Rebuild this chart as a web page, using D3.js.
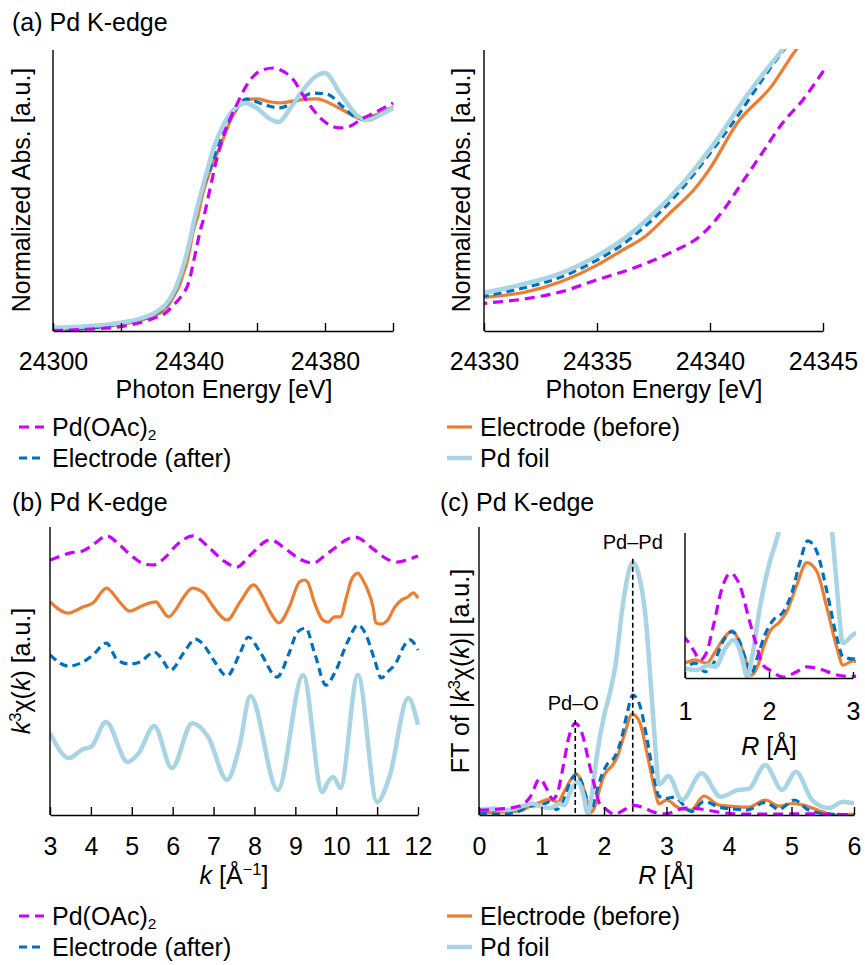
<!DOCTYPE html>
<html>
<head>
<meta charset="utf-8">
<script src="https://cdn.jsdelivr.net/npm/d3@7"></script>
<style>
  body { margin: 0; background: #fff; }
  svg text { font-family: "Liberation Sans", Arial, Helvetica, sans-serif; fill: #000; }
</style>
</head>
<body>
<svg id="fig" width="865" height="965"></svg>
<script>
// ---------------- data ----------------
const seriesKeys = ["pdOAc2", "before", "after", "foil"];
const seriesLabels = ["Pd(OAc)", "Electrode (before)", "Electrode (after)", "Pd foil"];

// (a) XANES: [photon energy (eV), normalized absorption]
const xanesPdOAc2 = [[24300,0.002],[24310,0.008],[24320,0.02],[24326,0.04],[24330,0.060],[24331.7,0.069],[24333.4,0.085],[24335,0.111],[24336.8,0.140],[24338.2,0.169],[24339.7,0.212],[24340.6,0.263],[24341.5,0.328],[24342.4,0.393],[24343.2,0.451],[24344.1,0.501],[24345,0.563],[24346.5,0.67],[24348.1,0.779],[24351.1,0.929],[24354,1.030],[24358,1.144],[24361,1.185],[24364.8,1.198],[24368,1.18],[24370.7,1.144],[24373.5,1.075],[24376.6,1.007],[24380,0.952],[24384.4,0.925],[24387.5,0.934],[24390.3,0.961],[24395,0.998],[24400,1.039]];
const xanesBefore = [[24300,0.005],[24310,0.012],[24320,0.030],[24326,0.050],[24330,0.073],[24331.7,0.083],[24333.4,0.107],[24335,0.143],[24336,0.172],[24337.2,0.208],[24338.2,0.255],[24339.4,0.313],[24340,0.353],[24341.2,0.451],[24342.7,0.530],[24343.8,0.610],[24346,0.72],[24349.1,0.838],[24353,0.984],[24357,1.052],[24360,1.057],[24363.5,1.045],[24366.8,1.039],[24372,1.052],[24377.5,1.057],[24382.4,1.030],[24386,1.0],[24390.3,0.970],[24394,0.98],[24400,1.021]];
const xanesAfter = [[24300,0.005],[24310,0.012],[24320,0.032],[24326,0.052],[24330,0.076],[24331.7,0.093],[24333.4,0.117],[24335,0.154],[24335.9,0.180],[24337.3,0.235],[24338.7,0.306],[24340,0.386],[24341.2,0.465],[24342.4,0.552],[24343.2,0.606],[24346,0.73],[24349,0.86],[24353,0.99],[24357,1.057],[24360,1.043],[24363.5,1.025],[24366.5,1.016],[24372,1.052],[24376.5,1.084],[24380.5,1.08],[24385,1.025],[24388,0.984],[24391.8,0.961],[24395,0.98],[24400,1.021]];
const xanesFoil = [[24300,0.015],[24310,0.022],[24320,0.038],[24326,0.058],[24330,0.083],[24331.6,0.100],[24333.4,0.125],[24335,0.163],[24335.9,0.190],[24337.2,0.241],[24338.8,0.321],[24340.3,0.415],[24341.6,0.509],[24343.2,0.610],[24345,0.71],[24347.1,0.825],[24350.6,0.952],[24354,1.020],[24356.5,1.039],[24359.9,1.016],[24363,0.975],[24366.3,0.952],[24370,1.02],[24373.6,1.098],[24377,1.157],[24380,1.175],[24384.4,1.084],[24389.3,0.984],[24392.7,0.961],[24396.2,0.984],[24400,1.016]];

// (b) EXAFS oscillations, vertically offset: [k (1/Å), k^3 chi(k) (a.u.)]
const exafsPdOAc2 = [[3.0,8.85],[3.25,8.99],[3.5,9.10],[3.8,9.17],[4.05,9.38],[4.39,9.69],[4.7,9.38],[5.0,8.99],[5.25,8.75],[5.52,8.68],[5.8,8.92],[6.1,9.38],[6.5,9.69],[6.9,9.27],[7.25,8.82],[7.57,8.61],[7.9,9.03],[8.38,9.55],[8.8,9.20],[9.1,8.89],[9.43,8.75],[9.8,9.10],[10.46,9.65],[10.9,9.24],[11.2,8.92],[11.48,8.78],[11.8,8.89],[12.0,8.99]];
const exafsBefore = [[3.0,7.40],[3.45,7.01],[3.6,7.08],[3.8,7.22],[4.05,7.36],[4.38,7.88],[4.7,7.40],[4.95,7.08],[5.15,7.19],[5.3,7.29],[5.6,7.40],[5.7,7.22],[5.9,6.88],[6.07,7.12],[6.27,7.57],[6.48,7.88],[6.76,7.71],[7.0,7.22],[7.33,6.77],[7.65,7.40],[7.98,7.99],[8.2,7.57],[8.4,7.01],[8.6,6.67],[8.85,7.22],[9.1,8.09],[9.22,8.16],[9.3,8.09],[9.47,7.36],[9.67,6.77],[9.8,6.70],[9.96,6.88],[10.1,6.88],[10.25,7.57],[10.37,8.16],[10.53,8.40],[10.65,8.16],[10.77,7.81],[10.9,7.22],[10.97,6.67],[11.1,6.63],[11.26,6.77],[11.42,7.19],[11.6,7.47],[11.75,7.57],[11.88,7.71],[12.0,7.53]];
const exafsAfter = [[3.0,5.56],[3.45,5.17],[3.8,5.31],[4.05,5.56],[4.38,5.97],[4.65,5.38],[4.95,5.24],[5.2,5.31],[5.55,5.66],[5.7,5.49],[5.95,5.03],[6.27,5.63],[6.56,6.11],[6.76,5.90],[7.0,5.38],[7.33,4.83],[7.65,5.63],[7.85,6.18],[8.15,5.63],[8.55,4.79],[8.85,5.63],[9.05,6.35],[9.25,6.49],[9.47,5.63],[9.75,4.51],[9.96,4.93],[10.3,6.08],[10.53,6.60],[10.73,6.25],[10.94,5.38],[11.1,4.76],[11.26,4.97],[11.46,5.28],[11.67,5.90],[11.8,6.08],[12.0,5.73]];
const exafsFoil = [[3.0,2.85],[3.47,1.98],[3.81,2.29],[4.0,2.36],[4.37,3.23],[4.9,1.84],[5.17,2.15],[5.55,3.09],[5.98,1.63],[6.48,3.19],[6.87,2.71],[7.33,1.22],[7.63,2.36],[7.9,4.13],[8.57,0.87],[9.19,4.86],[9.66,0.80],[9.8,1.15],[9.93,1.32],[10.1,0.94],[10.53,4.86],[11.0,0.45],[11.3,1.32],[11.76,4.06],[12.0,3.13]];

// (c) Fourier transform magnitude: [R (Å), |FT| (a.u.)]
const ftPdOAc2 = [[0,0.017],[0.3,0.02],[0.65,0.031],[0.82,0.063],[0.97,0.125],[1.1,0.085],[1.18,0.055],[1.26,0.080],[1.34,0.161],[1.44,0.272],[1.54,0.318],[1.65,0.282],[1.77,0.171],[1.85,0.100],[1.93,0.039],[2.01,0.024],[2.17,0.003],[2.33,0.019],[2.45,0.034],[2.61,0.027],[2.81,0.009],[2.98,0.004],[3.3,0.024],[3.57,0.02],[3.83,0.01],[4.27,0.003],[4.71,0.003],[5.15,0.004],[6.0,0.0]];
const ftBefore = [[0,0.007],[0.3,0.01],[0.65,0.014],[0.82,0.031],[1.0,0.046],[1.12,0.055],[1.26,0.045],[1.36,0.080],[1.46,0.120],[1.56,0.143],[1.63,0.120],[1.71,0.065],[1.79,0.009],[1.87,0.039],[1.93,0.090],[2.01,0.141],[2.13,0.171],[2.21,0.201],[2.33,0.282],[2.45,0.350],[2.57,0.323],[2.69,0.212],[2.81,0.090],[2.88,0.039],[3.0,0.052],[3.2,0.024],[3.39,0.017],[3.6,0.066],[3.83,0.035],[4.1,0.029],[4.31,0.027],[4.58,0.052],[4.8,0.031],[5.02,0.04],[5.2,0.034],[5.51,0.01],[5.68,0.0],[6.0,0.003]];
const ftAfter = [[0,0.007],[0.3,0.003],[0.6,0.01],[0.82,0.031],[1.0,0.034],[1.12,0.045],[1.24,0.019],[1.34,0.045],[1.46,0.115],[1.56,0.141],[1.65,0.110],[1.73,0.050],[1.79,0.014],[1.87,0.070],[1.95,0.130],[2.05,0.176],[2.17,0.201],[2.27,0.257],[2.37,0.353],[2.46,0.416],[2.57,0.383],[2.69,0.262],[2.81,0.120],[2.88,0.065],[3.0,0.058],[3.12,0.062],[3.4,0.012],[3.6,0.047],[3.85,0.027],[4.1,0.02],[4.3,0.018],[4.58,0.044],[4.8,0.02],[5.05,0.052],[5.25,0.02],[5.5,0.005],[6.0,0.0]];
const ftFoil = [[0,0.017],[0.2,0.023],[0.45,0.017],[0.7,0.031],[0.85,0.04],[1.0,0.029],[1.14,0.024],[1.28,0.039],[1.36,0.034],[1.48,0.090],[1.58,0.115],[1.67,0.070],[1.74,0.004],[1.81,0.080],[1.89,0.212],[2.01,0.353],[2.09,0.42],[2.19,0.53],[2.29,0.712],[2.38,0.83],[2.46,0.878],[2.55,0.84],[2.67,0.677],[2.75,0.45],[2.81,0.27],[2.88,0.106],[3.03,0.135],[3.25,0.052],[3.56,0.145],[3.87,0.063],[4.14,0.087],[4.31,0.09],[4.58,0.174],[4.85,0.087],[5.07,0.150],[5.33,0.052],[5.6,0.024],[5.82,0.046],[6.0,0.04]];

// scattering paths marked in (c)
const pathLabels = ["Pd\u2013O", "Pd\u2013Pd"];
const pathR = [1.54, 2.46];
const pathTop = [0.33, 0.89];

// axis ticks
const ticksXanesWide = [24300, 24320, 24340, 24360, 24380, 24400];
const labelsXanesWide = [24300, 24340, 24380];
const ticksXanesZoom = [24330, 24335, 24340, 24345];
const ticksK = [3, 4, 5, 6, 7, 8, 9, 10, 11, 12];
const ticksR = [0, 1, 2, 3, 4, 5, 6];
const ticksRInset = [1, 2, 3];

// ---------------- drawing ----------------
const svg = d3.select("#fig");
const FS = 25;

const style = {
  pdOAc2: { color: "#cc00ff", width: 3.2, dash: "10,6" },
  before: { color: "#ed7d31", width: 3.2, dash: null },
  after:  { color: "#0070c0", width: 3.2, dash: "8,5" },
  foil:   { color: "#a8d4e4", width: 4.5, dash: null }
};
const drawOrder = ["before", "after", "foil", "pdOAc2"];

let clipId = 0;
function panel(x, y, data, opts) {
  const g = svg.append("g");
  const id = "clip" + (clipId++);
  const [x0, x1] = x.range();
  const [y0, y1] = y.range();
  if (opts.fill) {
    g.append("rect").attr("x", x0).attr("y", y1).attr("width", x1 - x0).attr("height", y0 - y1).attr("fill", "#fff");
  }
  svg.append("clipPath").attr("id", id).append("rect")
    .attr("x", x0).attr("y", y1 - 1).attr("width", x1 - x0 + 3).attr("height", y0 - y1 + 1);
  const curves = g.append("g").attr("clip-path", `url(#${id})`);
  const line = d3.line().x(d => x(d[0])).y(d => y(d[1])).curve(d3.curveMonotoneX);
  drawOrder.forEach(key => {
    const s = style[key];
    curves.append("path").datum(data[key]).attr("d", line)
      .attr("fill", "none").attr("stroke", s.color).attr("stroke-width", s.width)
      .attr("stroke-dasharray", s.dash).attr("stroke-linejoin", "round");
  });
  // y axis line (no ticks)
  g.append("line").attr("x1", x0).attr("x2", x0).attr("y1", y1).attr("y2", y0)
    .attr("stroke", "#000").attr("stroke-width", 1.4);
  // x axis with inward ticks
  const ax = d3.axisBottom(x).tickValues(opts.ticks).tickSizeInner(-(opts.tickLen || 8)).tickSizeOuter(0)
    .tickPadding(opts.pad || 21).tickFormat(opts.fmt || d3.format("d"));
  const axg = g.append("g").attr("transform", `translate(0,${y0})`).call(ax);
  axg.attr("font-family", null);
  axg.select(".domain").attr("stroke", "#000").attr("stroke-width", 1.4);
  axg.selectAll(".tick line").attr("stroke", "#000").attr("stroke-width", 1.4);
  axg.selectAll(".tick text").attr("font-size", FS).attr("fill", "#000");
  return g;
}

const xanesData = { pdOAc2: xanesPdOAc2, before: xanesBefore, after: xanesAfter, foil: xanesFoil };
const exafsData = { pdOAc2: exafsPdOAc2, before: exafsBefore, after: exafsAfter, foil: exafsFoil };
const ftData = { pdOAc2: ftPdOAc2, before: ftBefore, after: ftAfter, foil: ftFoil };

// titles
[["(a) Pd K-edge", 12, 31], ["(b) Pd K-edge", 12, 511], ["(c) Pd K-edge", 440, 511]].forEach(([t, px, py]) =>
  svg.append("text").attr("x", px).attr("y", py).attr("font-size", FS).text(t));

// (a) wide XANES
const xA1 = d3.scaleLinear([24300, 24400], [53, 393]);
const yA1 = d3.scaleLinear([0, 1.28], [331, 50]);
panel(xA1, yA1, xanesData, { ticks: ticksXanesWide, fmt: d => labelsXanesWide.includes(d) ? d3.format("d")(d) : "" });

// (a) pre-edge zoom
const xA2 = d3.scaleLinear([24330, 24345], [484, 823]);
const yA2 = d3.scaleLinear([0, 0.61], [331, 50]);
panel(xA2, yA2, xanesData, { ticks: ticksXanesZoom });

// (b) EXAFS
const xB = d3.scaleLinear([3, 12], [50, 418]);
const yB = d3.scaleLinear([0, 10], [815, 527]);
panel(xB, yB, exafsData, { ticks: ticksK, pad: 22 });

// (c) FT
const xC = d3.scaleLinear([0, 6], [479, 854]);
const yC = d3.scaleLinear([0, 1], [815, 527]);
panel(xC, yC, ftData, { ticks: ticksR, pad: 22 });

// path markers
pathLabels.forEach((lab, i) => {
  svg.append("line").attr("x1", xC(pathR[i])).attr("x2", xC(pathR[i]))
    .attr("y1", yC(pathTop[i])).attr("y2", yC(0))
    .attr("stroke", "#000").attr("stroke-width", 1.6).attr("stroke-dasharray", "5,3");
  svg.append("text").attr("x", xC(pathR[i]) - (i === 0 ? 2 : 0)).attr("y", yC(pathTop[i]) - 10)
    .attr("text-anchor", "middle").attr("font-size", 20).text(lab);
});

// (c) inset
const xI = d3.scaleLinear([1, 3], [685, 853]);
const yI = d3.scaleLinear([0, 0.44], [678, 533]);
panel(xI, yI, ftData, { ticks: ticksRInset, tickLen: 6, pad: 24, fill: true });

// axis titles
function richText(sel, parts) {
  parts.forEach(p => {
    const t = sel.append("tspan").text(p.t);
    if (p.i) t.attr("font-style", "italic");
    if (p.sup) t.attr("font-size", FS * 0.66).attr("dy", -9);
    if (p.sub) t.attr("font-size", FS * 0.62).attr("dy", 4);
    if (p.back) t.attr("dy", p.back);
  });
  return sel;
}
function xTitle(cx, by, parts) {
  richText(svg.append("text").attr("x", cx).attr("y", by).attr("text-anchor", "middle").attr("font-size", FS), parts);
}
function yTitle(cx, cy, parts) {
  richText(svg.append("text").attr("transform", `translate(${cx},${cy}) rotate(-90)`)
    .attr("text-anchor", "middle").attr("font-size", FS), parts);
}
xTitle(224, 398, [{ t: "Photon Energy [eV]" }]);
xTitle(654, 398, [{ t: "Photon Energy [eV]" }]);
xTitle(234, 884, [{ t: "k", i: true }, { t: " [\u00C5" }, { t: "\u22121", sup: true }, { t: "]", back: 9 }]);
xTitle(666, 884, [{ t: "R", i: true }, { t: " [\u00C5]" }]);
xTitle(769, 755, [{ t: "R", i: true }, { t: " [\u00C5]" }]);

yTitle(30, 190, [{ t: "Normalized Abs. [a.u.]" }]);
yTitle(470, 190, [{ t: "Normalized Abs. [a.u.]" }]);
yTitle(30, 671, [{ t: "k", i: true }, { t: "3", sup: true }, { t: "\u03C7(", back: 9 }, { t: "k", i: true }, { t: ") [a.u.]" }]);
yTitle(469, 671, [{ t: "FT of |" }, { t: "k", i: true }, { t: "3", sup: true }, { t: "\u03C7(", back: 9 }, { t: "k", i: true }, { t: ")| [a.u.]" }]);

// legends
function legend(top) {
  const cols = [[19, 53], [447, 481]];
  const rows = [top, top + 31];
  const pos = [[0, 0], [1, 0], [0, 1], [1, 1]];
  seriesKeys.forEach((key, i) => {
    const [c, r] = pos[i];
    const s = style[key];
    const ly = rows[r];
    svg.append("line").attr("x1", cols[c][0]).attr("x2", cols[c][0] + 25).attr("y1", ly).attr("y2", ly)
      .attr("stroke", s.color).attr("stroke-width", key === "foil" ? 4.5 : 3.2).attr("stroke-dasharray", s.dash);
    const t = svg.append("text").attr("x", cols[c][0] + 33).attr("y", ly + 9).attr("font-size", FS);
    if (key === "pdOAc2") richText(t, [{ t: seriesLabels[i] }, { t: "2", sub: true }]);
    else t.text(seriesLabels[i]);
  });
}
legend(427);
legend(916);
</script>
</body>
</html>
